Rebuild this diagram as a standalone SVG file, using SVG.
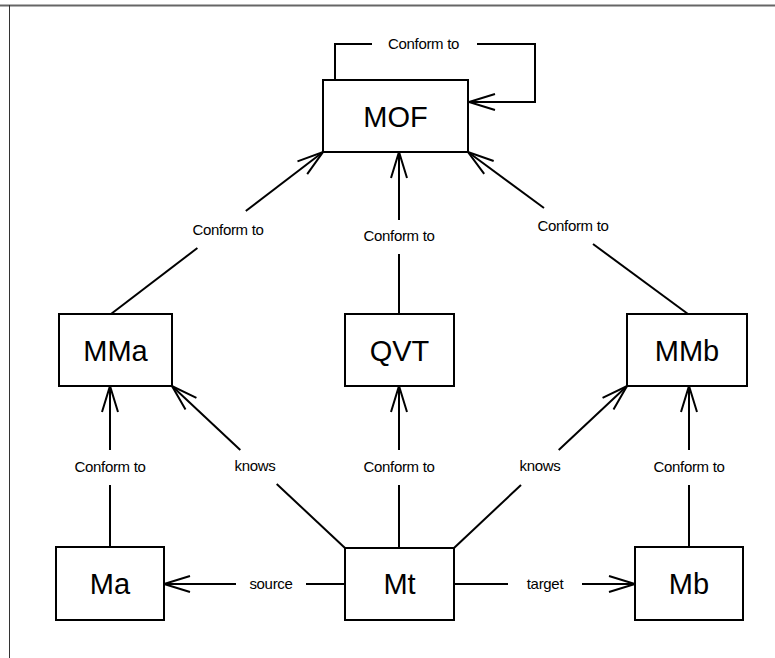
<svg xmlns="http://www.w3.org/2000/svg" width="775" height="658" viewBox="0 0 775 658">
  <style>
    .box { fill: #ffffff; stroke: #000000; stroke-width: 2; }
    .big { font-family: "Liberation Sans", Arial, sans-serif; font-size: 29px; fill: #000000; text-anchor: middle; }
    .lbl { font-family: "Liberation Sans", Arial, sans-serif; font-size: 15px; fill: #000000; text-anchor: middle; letter-spacing: -0.3px; }
    .edge { fill: none; stroke: #000000; stroke-width: 2; }
    .arrow { marker-end: url(#open); }
  </style>
  <defs>
    <marker id="open" markerUnits="userSpaceOnUse" viewBox="-28 -10 30 20" refX="0" refY="0" markerWidth="30" markerHeight="20" orient="auto" overflow="visible">
      <path d="M -26,-8 L 0,0 L -26,8" fill="none" stroke="#000000" stroke-width="2"/>
    </marker>
  </defs>

  <rect x="0" y="0" width="775" height="658" fill="#ffffff"/>
  <!-- page frame: top and left rules -->
  <line x1="0" y1="5.5" x2="775" y2="5.5" stroke="#666666" stroke-width="2"/>
  <line x1="9.5" y1="5" x2="9.5" y2="658" stroke="#333333" stroke-width="1"/>

  <g id="connectors">
    <!-- MOF self loop -->
    <path class="edge" d="M 335,80 V 44 H 372"/>
    <path class="edge arrow" d="M 477,44 H 535 V 102 H 469"/>
    <text class="lbl" x="423.5" y="49">Conform to</text>

    <!-- MMa -> MOF -->
    <path class="edge" d="M 111,314 L 197.4,248"/>
    <path class="edge arrow" d="M 245.8,211 L 323,152"/>
    <text class="lbl" x="228" y="235">Conform to</text>

    <!-- QVT -> MOF -->
    <path class="edge" d="M 399,314 V 254"/>
    <path class="edge arrow" d="M 399,220 V 152"/>
    <text class="lbl" x="399" y="241">Conform to</text>

    <!-- MMb -> MOF -->
    <path class="edge" d="M 688,314 L 593,244"/>
    <path class="edge arrow" d="M 544,208 L 468,152"/>
    <text class="lbl" x="573" y="231">Conform to</text>

    <!-- Ma -> MMa -->
    <path class="edge" d="M 110,547 V 485"/>
    <path class="edge arrow" d="M 110,450 V 386"/>
    <text class="lbl" x="110" y="472">Conform to</text>

    <!-- Mt -> QVT -->
    <path class="edge" d="M 399,548 V 485"/>
    <path class="edge arrow" d="M 399,450 V 386"/>
    <text class="lbl" x="399" y="472">Conform to</text>

    <!-- Mb -> MMb -->
    <path class="edge" d="M 689,547 V 485"/>
    <path class="edge arrow" d="M 689,450 V 386"/>
    <text class="lbl" x="689" y="472">Conform to</text>

    <!-- Mt knows MMa -->
    <path class="edge" d="M 345,548 L 276.7,484"/>
    <path class="edge arrow" d="M 240.3,450 L 172,386"/>
    <text class="lbl" x="255" y="471">knows</text>

    <!-- Mt knows MMb -->
    <path class="edge" d="M 454,548 L 521,485"/>
    <path class="edge arrow" d="M 558.7,450 L 627,386"/>
    <text class="lbl" x="540" y="471">knows</text>

    <!-- Mt source Ma -->
    <path class="edge" d="M 345,584 H 306"/>
    <path class="edge arrow" d="M 236,584 H 164"/>
    <text class="lbl" x="271" y="588.5">source</text>

    <!-- Mt target Mb -->
    <path class="edge" d="M 454,584 H 508"/>
    <path class="edge arrow" d="M 582,584 H 635"/>
    <text class="lbl" x="545" y="588.5">target</text>
  </g>

  <g id="MOF">
    <rect class="box" x="323" y="80" width="145" height="72"/>
    <text class="big" x="395.5" y="126.5">MOF</text>
  </g>
  <g id="MMa">
    <rect class="box" x="59" y="314" width="113" height="72"/>
    <text class="big" x="115.5" y="360.5">MMa</text>
  </g>
  <g id="QVT">
    <rect class="box" x="345" y="314" width="109" height="72"/>
    <text class="big" x="399.5" y="360.5">QVT</text>
  </g>
  <g id="MMb">
    <rect class="box" x="627" y="314" width="120" height="72"/>
    <text class="big" x="687" y="360.5">MMb</text>
  </g>
  <g id="Ma">
    <rect class="box" x="56" y="547" width="108" height="73"/>
    <text class="big" x="110" y="594">Ma</text>
  </g>
  <g id="Mt">
    <rect class="box" x="345" y="548" width="109" height="72"/>
    <text class="big" x="399.5" y="594">Mt</text>
  </g>
  <g id="Mb">
    <rect class="box" x="635" y="547" width="108" height="73"/>
    <text class="big" x="689" y="594">Mb</text>
  </g>
</svg>
